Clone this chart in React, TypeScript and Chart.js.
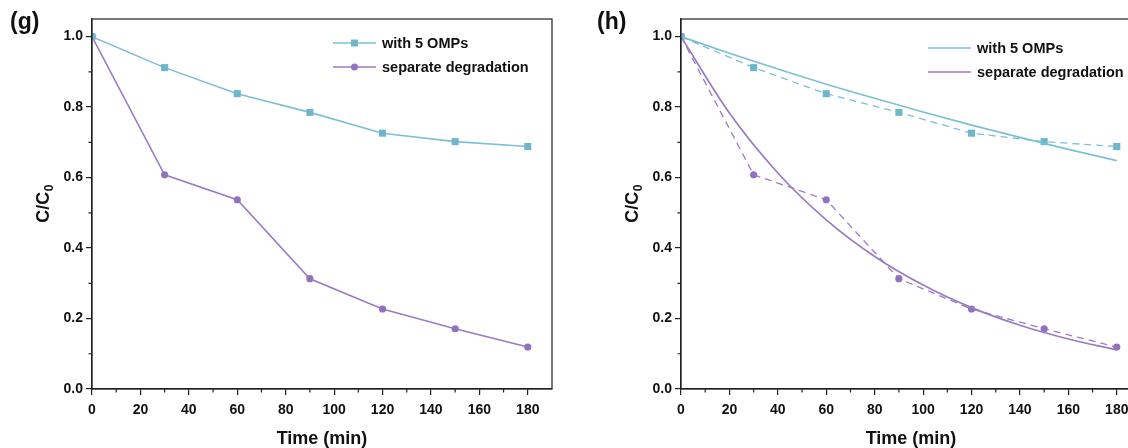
import React, { useEffect, useRef } from "react";
import { Chart, registerables } from "chart.js";

Chart.register(...registerables);

// ---- data ----
const times = [0, 30, 60, 90, 120, 150, 180];
const withOMPs = [1.0, 0.912, 0.838, 0.785, 0.726, 0.702, 0.688];
const separate = [1.0, 0.608, 0.537, 0.313, 0.227, 0.171, 0.119];
const fitTimes = [0, 20, 40, 60, 80, 100, 120, 140, 160, 180];
const fitWithOMPs = [1.0, 0.953, 0.908, 0.865, 0.825, 0.786, 0.749, 0.714, 0.68, 0.648];
const fitSeparate = [1.0, 0.783, 0.613, 0.48, 0.376, 0.295, 0.231, 0.181, 0.142, 0.111];
const seriesLabels = ["with 5 OMPs", "separate degradation"];
const xMinorTicks = [10, 30, 50, 70, 90, 110, 130, 150, 170];
const yMinorTicks = [0.1, 0.3, 0.5, 0.7, 0.9];
const xTitle = "Time (min)";
const panelLabels = ["(g)", "(h)"];

const FONT = "'Liberation Sans', Arial, Helvetica, sans-serif";
const CYAN = "#7cc0d2";
const CYAN_MK = "#70b6ca";
const PURPLE = "#9b7bc4";
const PURPLE_MK = "#9272bf";
const AXIS = "#222";
const TEXT = "#111";

type LegendItem = { label: string; color: string; mk: string; marker: "rect" | "circle" | null };

function pts(xs: number[], ys: number[]) {
  return xs.map((x, i) => ({ x, y: ys[i] }));
}

function makeDecor(panel: string, legendX: number, legendRows: number[], items: LegendItem[]) {
  return {
    id: "decor" + panel,
    afterDraw(chart: any) {
      const ctx = chart.ctx as CanvasRenderingContext2D;
      const { left, right, top, bottom } = chart.chartArea;
      const xs = chart.scales.x;
      const ys = chart.scales.y;
      ctx.save();
      ctx.strokeStyle = AXIS;
      ctx.lineWidth = 1.2;
      ctx.strokeRect(left, top, right - left, bottom - top);
      ctx.beginPath();
      for (const v of xMinorTicks) {
        const px = xs.getPixelForValue(v);
        ctx.moveTo(px, bottom);
        ctx.lineTo(px, bottom + 3.5);
      }
      for (const v of yMinorTicks) {
        const py = ys.getPixelForValue(v);
        ctx.moveTo(left, py);
        ctx.lineTo(left - 3.5, py);
      }
      ctx.stroke();
      ctx.fillStyle = TEXT;
      ctx.font = `bold 23px ${FONT}`;
      ctx.textAlign = "left";
      ctx.textBaseline = "middle";
      ctx.fillText(panel, panel === "(g)" ? 10 : 8, 23);
      const cy = (top + bottom) / 2;
      ctx.save();
      ctx.translate(43, cy);
      ctx.rotate(-Math.PI / 2);
      ctx.font = `bold 18px ${FONT}`;
      const w1 = ctx.measureText("C/C").width;
      ctx.font = `bold 12px ${FONT}`;
      const w2 = ctx.measureText("0").width;
      const x0 = -(w1 + w2) / 2;
      ctx.textBaseline = "alphabetic";
      ctx.font = `bold 18px ${FONT}`;
      ctx.fillText("C/C", x0, 6);
      ctx.font = `bold 12px ${FONT}`;
      ctx.fillText("0", x0 + w1 + 0.5, 10);
      ctx.restore();
      items.forEach((it, i) => {
        const y = legendRows[i];
        ctx.strokeStyle = it.color;
        ctx.lineWidth = 1.6;
        ctx.setLineDash([]);
        ctx.beginPath();
        ctx.moveTo(legendX, y);
        ctx.lineTo(legendX + 43, y);
        ctx.stroke();
        const mx = legendX + 21.5;
        ctx.fillStyle = it.mk;
        if (it.marker === "rect") {
          ctx.fillRect(mx - 3.5, y - 3.5, 7, 7);
        } else if (it.marker === "circle") {
          ctx.beginPath();
          ctx.arc(mx, y, 3.5, 0, Math.PI * 2);
          ctx.fill();
        }
        ctx.fillStyle = TEXT;
        ctx.font = `bold 14.5px ${FONT}`;
        ctx.textBaseline = "middle";
        ctx.fillText(it.label, legendX + 49, y + 0.5);
      });
      ctx.restore();
    },
  };
}

function baseOptions() {
  const tickFont = { family: FONT, size: 14, weight: "bold" as const };
  return {
    responsive: false,
    animation: false as const,
    layout: { padding: { left: 0, top: 19, right: 23, bottom: 0 } },
    plugins: { legend: { display: false }, tooltip: { enabled: false } },
    scales: {
      x: {
        type: "linear" as const,
        min: 0,
        max: 190,
        afterFit: (s: any) => {
          s.height = 59;
        },
        ticks: {
          stepSize: 20,
          includeBounds: false,
          color: TEXT,
          font: tickFont,
          padding: 7,
          maxRotation: 0,
          callback: (v: any) => String(v),
        },
        grid: { drawOnChartArea: false, drawTicks: true, tickLength: 6, color: AXIS, lineWidth: 1.2 },
        border: { display: true, color: AXIS, width: 1.2 },
        title: {
          display: true,
          text: xTitle,
          color: TEXT,
          font: { family: FONT, size: 18, weight: "bold" as const },
          padding: { top: 0, bottom: -2 },
        },
      },
      y: {
        type: "linear" as const,
        min: 0,
        max: 1.05,
        afterFit: (s: any) => {
          s.width = 92;
        },
        ticks: {
          stepSize: 0.2,
          includeBounds: false,
          color: TEXT,
          font: tickFont,
          padding: 3,
          callback: (v: any) => Number(v).toFixed(1),
        },
        grid: { drawOnChartArea: false, drawTicks: true, tickLength: 6, color: AXIS, lineWidth: 1.2 },
        border: { display: true, color: AXIS, width: 1.2 },
      },
    },
  };
}

function configG(): any {
  return {
    type: "line",
    data: {
      datasets: [
        {
          label: seriesLabels[0],
          data: pts(times, withOMPs),
          borderColor: CYAN,
          backgroundColor: CYAN_MK,
          borderWidth: 1.6,
          pointStyle: "rect",
          pointRadius: 5,
          pointBorderWidth: 0,
          tension: 0,
        },
        {
          label: seriesLabels[1],
          data: pts(times, separate),
          borderColor: PURPLE,
          backgroundColor: PURPLE_MK,
          borderWidth: 1.6,
          pointStyle: "circle",
          pointRadius: 3.6,
          pointBorderWidth: 0,
          tension: 0,
        },
      ],
    },
    options: baseOptions(),
    plugins: [
      makeDecor(panelLabels[0], 333, [43, 67], [
        { label: seriesLabels[0], color: CYAN, mk: CYAN_MK, marker: "rect" },
        { label: seriesLabels[1], color: PURPLE, mk: PURPLE_MK, marker: "circle" },
      ]),
    ],
  };
}

function configH(): any {
  return {
    type: "line",
    data: {
      datasets: [
        {
          label: seriesLabels[0],
          data: pts(fitTimes, fitWithOMPs),
          borderColor: CYAN,
          borderWidth: 1.7,
          pointRadius: 0,
          cubicInterpolationMode: "monotone",
        },
        {
          label: seriesLabels[1],
          data: pts(fitTimes, fitSeparate),
          borderColor: PURPLE,
          borderWidth: 1.7,
          pointRadius: 0,
          cubicInterpolationMode: "monotone",
        },
        {
          label: seriesLabels[0] + " data",
          data: pts(times, withOMPs),
          borderColor: CYAN,
          backgroundColor: CYAN_MK,
          borderWidth: 1.3,
          borderDash: [7, 5],
          pointStyle: "rect",
          pointRadius: 5,
          pointBorderWidth: 0,
          tension: 0,
        },
        {
          label: seriesLabels[1] + " data",
          data: pts(times, separate),
          borderColor: PURPLE,
          backgroundColor: PURPLE_MK,
          borderWidth: 1.3,
          borderDash: [7, 5],
          pointStyle: "circle",
          pointRadius: 3.6,
          pointBorderWidth: 0,
          tension: 0,
        },
      ],
    },
    options: baseOptions(),
    plugins: [
      makeDecor(panelLabels[1], 339, [48, 72], [
        { label: seriesLabels[0], color: CYAN, mk: CYAN_MK, marker: null },
        { label: seriesLabels[1], color: PURPLE, mk: PURPLE_MK, marker: null },
      ]),
    ],
  };
}

export default function App() {
  const refG = useRef<HTMLCanvasElement | null>(null);
  const refH = useRef<HTMLCanvasElement | null>(null);

  useEffect(() => {
    const charts: Chart[] = [];
    if (refG.current) charts.push(new Chart(refG.current, configG()));
    if (refH.current) charts.push(new Chart(refH.current, configH()));
    return () => charts.forEach((c) => c.destroy());
  }, []);

  return (
    <div
      style={{
        position: "fixed",
        left: 0,
        top: 0,
        width: 1128,
        height: 448,
        overflow: "hidden",
        background: "#fff",
      }}
    >
      <div style={{ position: "absolute", left: 0, top: 0, width: 575, height: 448 }}>
        <canvas ref={refG} width={575} height={448} style={{ display: "block" }} />
      </div>
      <div style={{ position: "absolute", left: 589, top: 0, width: 575, height: 448 }}>
        <canvas ref={refH} width={575} height={448} style={{ display: "block" }} />
      </div>
    </div>
  );
}
